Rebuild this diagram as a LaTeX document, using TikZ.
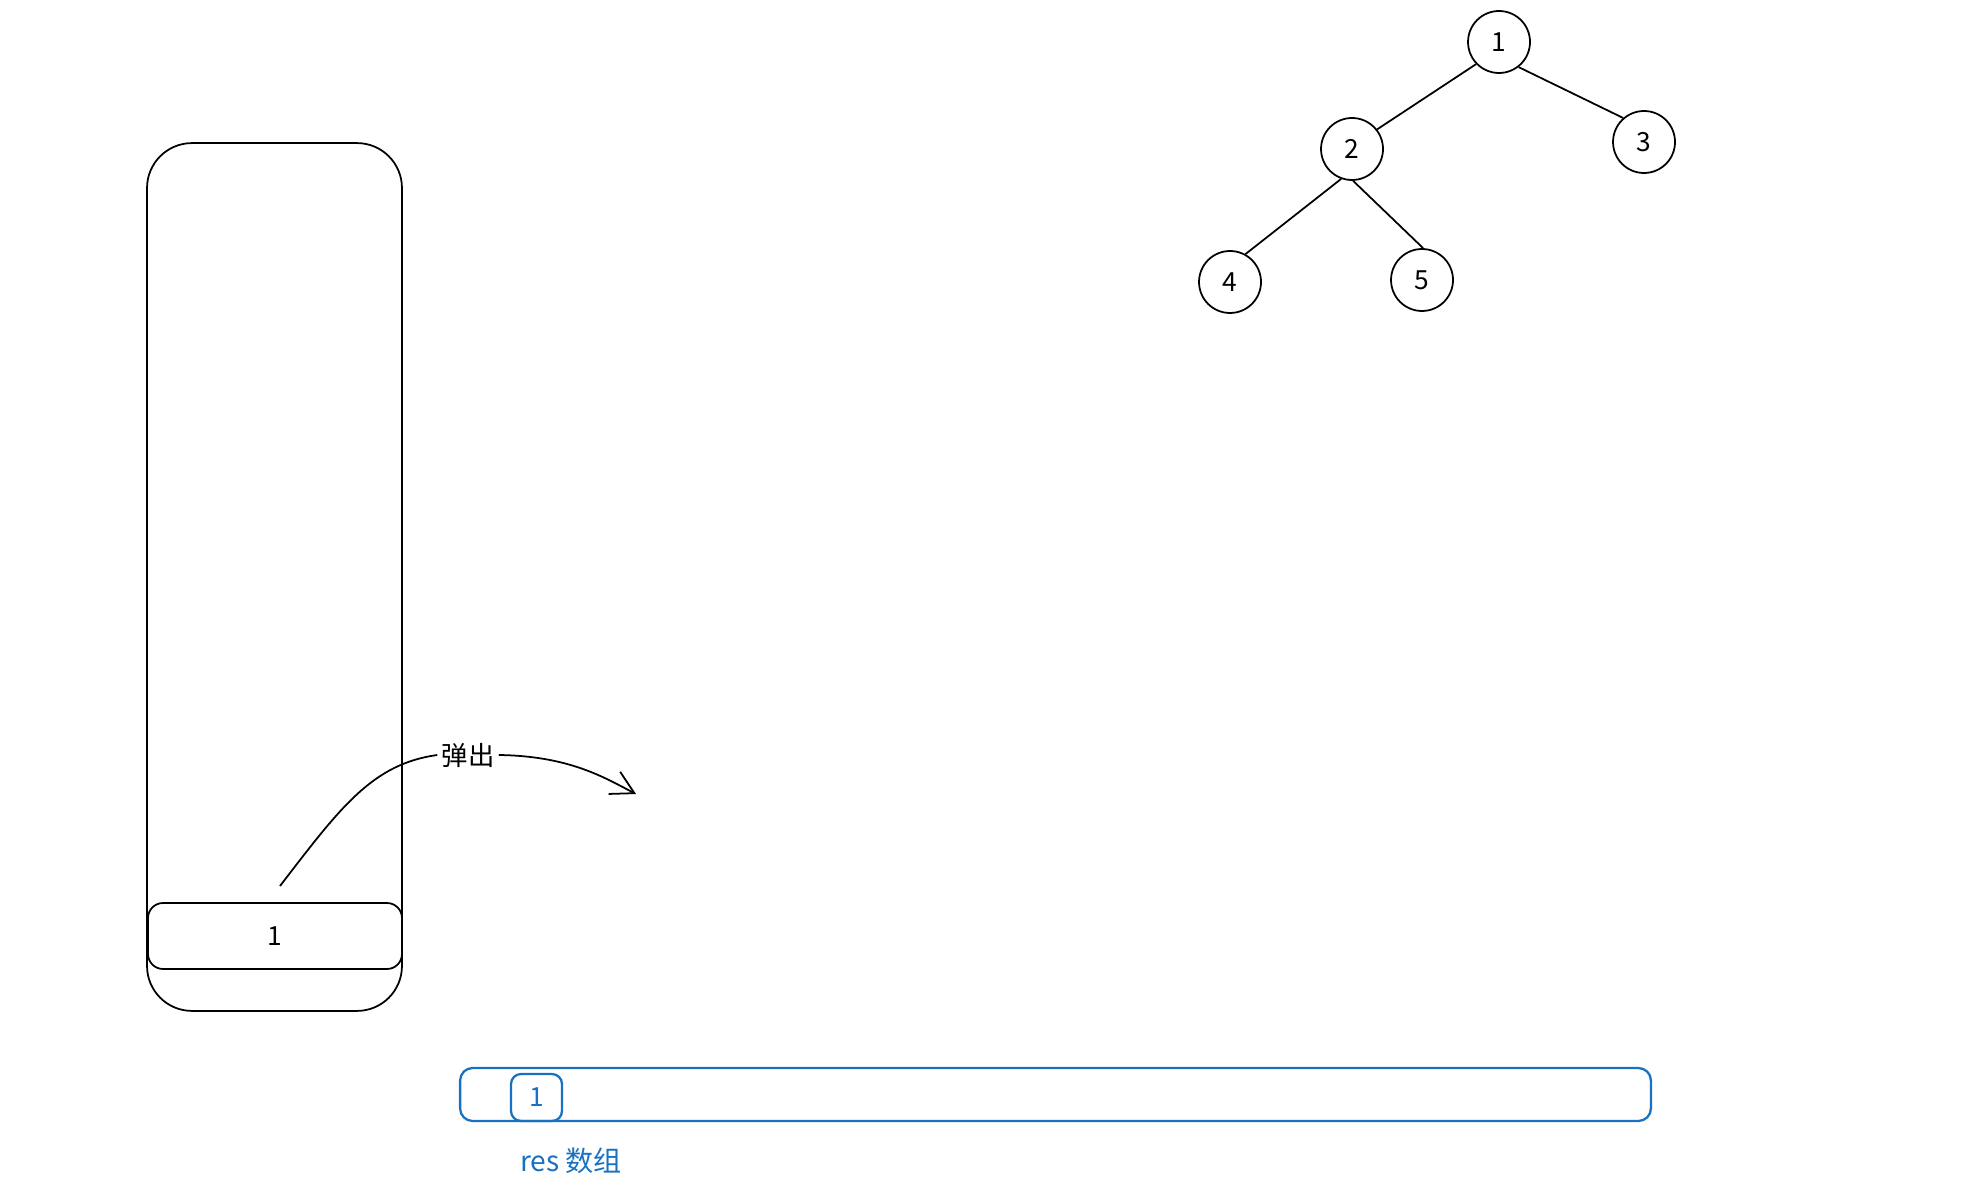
\documentclass[tikz,border=0pt]{standalone}
\usepackage{fontspec}
\setmainfont{Noto Sans CJK SC}
\usetikzlibrary{arrows.meta}
\definecolor{resblue}{HTML}{1971C2}

\begin{document}
\begin{tikzpicture}[x=0.02cm, y=-0.02cm, >={Straight Barb[length=4.5mm, width=5mm]},
line width=1pt, font=\fontsize{15}{18}\selectfont,
treenode/.style={circle, draw, minimum size=1.24cm, inner sep=0pt},
stackbox/.style={draw, rounded corners=0.9cm, minimum width=5.1cm, minimum height=17.36cm},
cellbox/.style={draw, rounded corners=0.3cm, minimum width=5.08cm, minimum height=1.32cm},
arraybox/.style={draw=resblue, line width=1.3pt, rounded corners=0.25cm, minimum width=23.82cm, minimum height=1.06cm},
slotbox/.style={draw=resblue, line width=1.3pt, rounded corners=0.2cm, minimum width=1.02cm, minimum height=0.94cm, text=resblue}]
    \useasboundingbox (0,0) rectangle (1966,1192);

    % tree
    \node[treenode] (N1) at (1499, 42) {1};
    \node[treenode] (N2) at (1352, 149) {2};
    \node[treenode] (N3) at (1644, 142) {3};
    \node[treenode] (N4) at (1230, 282) {4};
    \node[treenode] (N5) at (1422, 280) {5};
    \path[draw]
        (N1.224) edge (N2.38)
        (N1.308) edge (N3.131)
        (N2.250) edge (N4.61)
        (N2.272) edge (N5.88);

    % stack
    \node[stackbox] (STACK) at (274.5, 577) {};
    \node[cellbox] (TOP) at (275, 936) {1};

    % pop arrow
    \coordinate (POP_FROM) at (280, 886);
    \coordinate (POP_TO) at (636, 794);
    \node[inner sep=2pt] (POP) at (468, 755) {弹出};
    \draw (POP_FROM) .. controls (340, 808) and (372, 764) .. (POP.west);
    \draw[->] (POP.east) .. controls (570, 756) and (605, 778) .. (POP_TO);

    % res array
    \node[arraybox] (RES) at (1055.5, 1094.5) {};
    \node[slotbox] (RES_0) at (536.5, 1097.5) {1};
    \node[text=resblue, font=\fontsize{16}{19}\selectfont] (RES_LABEL) at (571, 1161) {res 数组};
\end{tikzpicture}
\end{document}
